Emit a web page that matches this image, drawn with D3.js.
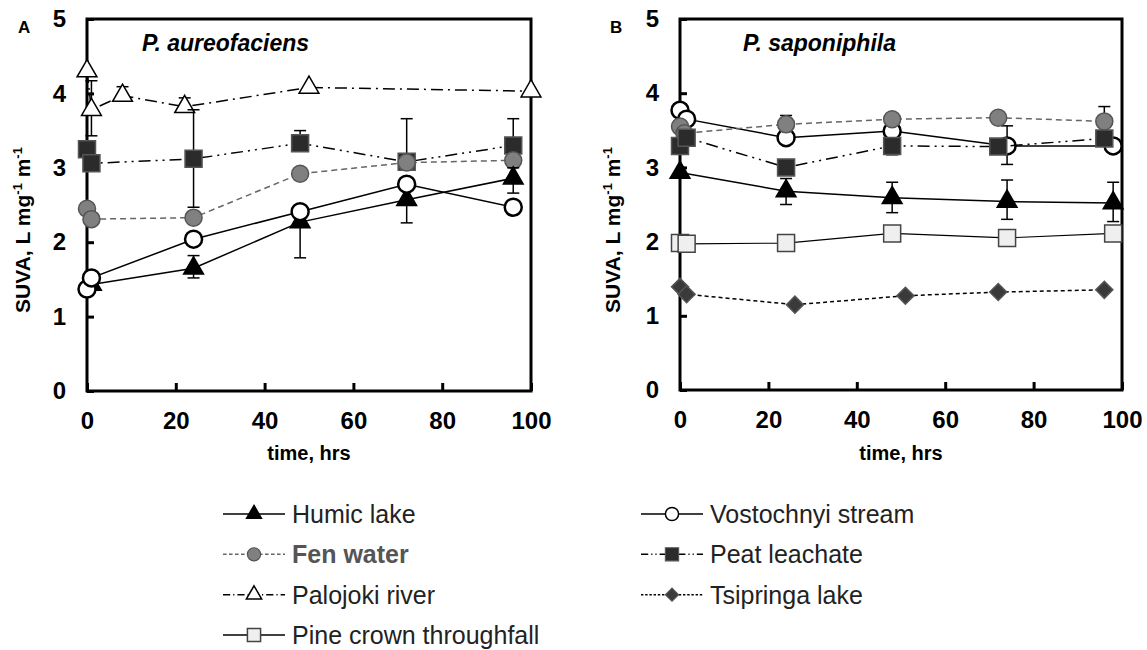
<html>
<head>
<script src="https://cdn.jsdelivr.net/npm/d3@7"></script>
<style>
  body { margin: 0; background: #fff; }
  text { font-family: Arial, "Liberation Sans", sans-serif; }
</style>
</head>
<body>
<div id="main"></div>
<script>
// ---- data ----
var seriesNames = ['Humic lake', 'Vostochnyi stream', 'Fen water', 'Peat leachate',
                   'Palojoki river', 'Tsipringa lake', 'Pine crown throughfall'];
var xTicks = [0, 20, 40, 60, 80, 100];
var yTicks = [0, 1, 2, 3, 4, 5];

// panel A, P. aureofaciens
var palojokiA_t = [0, 1, 8, 22, 50, 100];
var palojokiA_v = [4.30, 3.78, 3.97, 3.82, 4.08, 4.03];
var palojokiA_hi = [0, 0.39, 0.12, 0.12, 0, 0];
var palojokiA_lo = [0, 0.35, 0, 0, 0, 0];
var peatA_t = [0, 1, 24, 48, 72, 96];
var peatA_v = [3.25, 3.06, 3.12, 3.33, 3.08, 3.30];
var peatA_hi = [0, 0, 0.66, 0.17, 0.58, 0.36];
var peatA_lo = [0, 0, 0.65, 0, 0, 0];
var fenA_t = [0, 1, 24, 48, 72, 96];
var fenA_v = [2.45, 2.31, 2.33, 2.92, 3.07, 3.10];
var vostA_t = [0, 1, 24, 48, 72, 96];
var vostA_v = [1.37, 1.52, 2.04, 2.41, 2.78, 2.47];
var humicA_t = [1, 24, 48, 72, 96];
var humicA_v = [1.43, 1.65, 2.27, 2.57, 2.86];
var humicA_hi = [0, 0.17, 0, 0, 0.14];
var humicA_lo = [0, 0.13, 0.48, 0.31, 0.2];

// panel B, P. saponiphila
var tsipB_t = [0, 1.5, 26, 51, 72, 96];
var tsipB_v = [1.39, 1.29, 1.15, 1.27, 1.32, 1.35];
var pineB_t = [0, 1.5, 24, 48, 74, 98];
var pineB_v = [1.98, 1.97, 1.98, 2.11, 2.05, 2.11];
var pineB_lo = [0, 0, 0, 0, 0.05, 0];
var humicB_t = [0, 24, 48, 74, 98];
var humicB_v = [2.93, 2.68, 2.59, 2.54, 2.52];
var humicB_hi = [0, 0.17, 0.21, 0.29, 0.28];
var humicB_lo = [0, 0.18, 0.2, 0.24, 0.25];
var peatB_t = [0, 1.5, 24, 48, 72, 96];
var peatB_v = [3.29, 3.40, 3.00, 3.29, 3.28, 3.39];
var peatB_lo = [0, 0, 0, 0.12, 0, 0];
var fenB_t = [0, 1, 24, 48, 72, 96];
var fenB_v = [3.55, 3.46, 3.58, 3.65, 3.67, 3.62];
var fenB_hi = [0, 0, 0.12, 0, 0, 0.2];
var vostB_t = [0, 1.5, 24, 48, 74, 98];
var vostB_v = [3.77, 3.65, 3.40, 3.49, 3.29, 3.29];
var vostB_hi = [0, 0, 0, 0, 0.27, 0];
var vostB_lo = [0, 0, 0, 0, 0.25, 0];

// ---- styles per series ----
var styles = {
  'Humic lake':        { shape: d3.symbolTriangle, size: 170, fill: '#000', stroke: '#000', dash: null, lc: '#000', lw: 1.5 },
  'Vostochnyi stream': { shape: d3.symbolCircle, size: 227, fill: '#fff', stroke: '#000', sw: 2.5, dash: null, lc: '#000', lw: 1.5 },
  'Fen water':         { shape: d3.symbolCircle, size: 227, fill: '#808080', stroke: '#555', dash: '6,4', lc: '#666', lw: 1.5 },
  'Peat leachate':     { shape: d3.symbolSquare, size: 289, fill: '#2b2b2b', stroke: '#555', dash: '12,5,2,5,2,5', lc: '#000', lw: 1.5 },
  'Palojoki river':    { shape: d3.symbolTriangle, size: 170, fill: '#fff', stroke: '#000', sw: 1.5, dash: '12,5,2,5', lc: '#000', lw: 1.5 },
  'Tsipringa lake':    { shape: d3.symbolSquare, size: 144, rot: 45, fill: '#3a3a3a', stroke: '#555', dash: '4,3', lc: '#000', lw: 1.5 },
  'Pine crown throughfall': { shape: d3.symbolSquare, size: 289, fill: '#efefef', stroke: '#444', sw: 1.5, dash: null, lc: '#000', lw: 1.2 }
};

var W = 1147, H = 650;
var svg = d3.select('#main').append('svg').attr('width', W).attr('height', H);

function zip(t, v, hi, lo) {
  return t.map(function(d, i) {
    return { t: d, v: v[i], hi: hi ? hi[i] : 0, lo: lo ? lo[i] : 0 };
  });
}

function panel(cfg) {
  var x = d3.scaleLinear().domain([0, 100]).range(cfg.xr);
  var y = d3.scaleLinear().domain([0, 5]).range(cfg.yr);
  var g = svg.append('g');

  // axes with inward ticks
  g.append('g').attr('transform', 'translate(' + cfg.xr[0] + ',0)')
    .call(d3.axisLeft(y).tickValues(yTicks).tickSize(-7).tickPadding(21).tickFormat(d3.format('d')))
    .call(function(a) { a.select('.domain').remove(); });
  g.append('g').attr('transform', 'translate(0,' + cfg.yr[0] + ')')
    .call(d3.axisBottom(x).tickValues(xTicks).tickSize(-8).tickPadding(21).tickFormat(d3.format('d')))
    .call(function(a) { a.select('.domain').remove(); });
  g.selectAll('.tick line').attr('stroke', '#000').attr('stroke-width', 3);
  g.selectAll('.tick text').attr('font-size', 24).attr('font-weight', 'bold').attr('fill', '#000')
    .attr('font-family', 'Arial, "Liberation Sans", sans-serif');

  g.append('rect')
    .attr('x', cfg.xr[0]).attr('y', cfg.yr[1])
    .attr('width', cfg.xr[1] - cfg.xr[0]).attr('height', cfg.yr[0] - cfg.yr[1])
    .attr('fill', 'none').attr('stroke', '#000').attr('stroke-width', 3);

  var line = d3.line().x(function(d) { return x(d.t); }).y(function(d) { return y(d.v); });

  cfg.series.forEach(function(s) {
    var st = styles[s.name];
    var data = zip(s.t, s.v, s.hi, s.lo);
    g.append('path').datum(data).attr('d', line)
      .attr('fill', 'none').attr('stroke', st.lc).attr('stroke-width', st.lw)
      .attr('stroke-dasharray', st.dash);
    var eb = data.filter(function(d) { return d.hi > 0 || d.lo > 0; });
    eb.forEach(function(d) {
      var xx = x(d.t);
      g.append('line').attr('x1', xx).attr('x2', xx)
        .attr('y1', y(d.v + d.hi)).attr('y2', y(d.v - d.lo))
        .attr('stroke', '#000').attr('stroke-width', 1.5);
      [d.hi > 0 ? d.v + d.hi : null, d.lo > 0 ? d.v - d.lo : null].forEach(function(c) {
        if (c === null) return;
        g.append('line').attr('x1', xx - 6).attr('x2', xx + 6)
          .attr('y1', y(c)).attr('y2', y(c))
          .attr('stroke', '#000').attr('stroke-width', 1.5);
      });
    });
    g.selectAll(null).data(data).enter().append('path')
      .attr('d', d3.symbol().type(st.shape).size(st.size))
      .attr('transform', function(d) {
        return 'translate(' + x(d.t) + ',' + y(d.v) + ')' + (st.rot ? ' rotate(' + st.rot + ')' : '');
      })
      .attr('fill', st.fill).attr('stroke', st.stroke).attr('stroke-width', st.sw || 1.5);
  });

  // labels
  svg.append('text').attr('x', cfg.letterX).attr('y', 33).text(cfg.letter)
    .attr('font-size', 17).attr('font-weight', 'bold');
  svg.append('text').attr('x', cfg.titleX).attr('y', 51).text(cfg.title)
    .attr('font-size', 23).attr('font-weight', 'bold').attr('font-style', 'italic');
  svg.append('text').attr('x', (cfg.xr[0] + cfg.xr[1]) / 2).attr('y', 460)
    .attr('text-anchor', 'middle').text('time, hrs')
    .attr('font-size', 20).attr('font-weight', 'bold');
  var yl = svg.append('text')
    .attr('transform', 'translate(' + (cfg.ylabX + 7) + ',230) rotate(-90)')
    .attr('text-anchor', 'middle').attr('font-size', 21).attr('font-weight', 'bold');
  yl.append('tspan').text('SUVA, L mg');
  yl.append('tspan').attr('dy', -8).attr('font-size', 13).text('-1');
  yl.append('tspan').attr('dy', 8).text(' m');
  yl.append('tspan').attr('dy', -8).attr('font-size', 13).text('-1');
}

panel({
  xr: [87, 531], yr: [391, 19], letter: 'A', letterX: 18, titleX: 142, ylabX: 23,
  title: 'P. aureofaciens',
  series: [
    { name: 'Palojoki river', t: palojokiA_t, v: palojokiA_v, hi: palojokiA_hi, lo: palojokiA_lo },
    { name: 'Peat leachate', t: peatA_t, v: peatA_v, hi: peatA_hi, lo: peatA_lo },
    { name: 'Fen water', t: fenA_t, v: fenA_v },
    { name: 'Humic lake', t: humicA_t, v: humicA_v, hi: humicA_hi, lo: humicA_lo },
    { name: 'Vostochnyi stream', t: vostA_t, v: vostA_v }
  ]
});

panel({
  xr: [680, 1122], yr: [390, 19], letter: 'B', letterX: 610, titleX: 743, ylabX: 613,
  title: 'P. saponiphila',
  series: [
    { name: 'Tsipringa lake', t: tsipB_t, v: tsipB_v },
    { name: 'Pine crown throughfall', t: pineB_t, v: pineB_v, lo: pineB_lo },
    { name: 'Humic lake', t: humicB_t, v: humicB_v, hi: humicB_hi, lo: humicB_lo },
    { name: 'Vostochnyi stream', t: vostB_t, v: vostB_v, hi: vostB_hi, lo: vostB_lo },
    { name: 'Fen water', t: fenB_t, v: fenB_v, hi: fenB_hi },
    { name: 'Peat leachate', t: peatB_t, v: peatB_v, lo: peatB_lo }
  ]
});

// ---- legend ----
var legendLeft = ['Humic lake', 'Fen water', 'Palojoki river', 'Pine crown throughfall'];
var legendRight = ['Vostochnyi stream', 'Peat leachate', 'Tsipringa lake'];
var rowY = d3.scalePoint().domain([0, 1, 2, 3]).range([514, 635]);

function legendCol(names, x0) {
  names.forEach(function(n, i) {
    var st = styles[n];
    var yy = rowY(i);
    var lg = svg.append('g');
    lg.append('line').attr('x1', x0).attr('x2', x0 + 62).attr('y1', yy).attr('y2', yy)
      .attr('stroke', st.lc).attr('stroke-width', 1.5).attr('stroke-dasharray', st.dash ? st.dash.split(',').map(function(v) { return +v * 0.6; }).join(',') : null);
    lg.append('path').attr('d', d3.symbol().type(st.shape).size(st.size * 0.6))
      .attr('transform', 'translate(' + (x0 + 31) + ',' + yy + ')' + (st.rot ? ' rotate(' + st.rot + ')' : ''))
      .attr('fill', st.fill).attr('stroke', st.stroke).attr('stroke-width', st.sw ? Math.min(st.sw, 1.5) : 1.2);
    lg.append('text').attr('x', x0 + 69).attr('y', yy + 9).text(n)
      .attr('font-size', 25)
      .attr('fill', n === 'Fen water' ? '#555' : '#222')
      .attr('font-weight', n === 'Fen water' ? 'bold' : 'normal');
  });
}
legendCol(legendLeft, 223);
legendCol(legendRight, 641);
</script>
</body>
</html>
